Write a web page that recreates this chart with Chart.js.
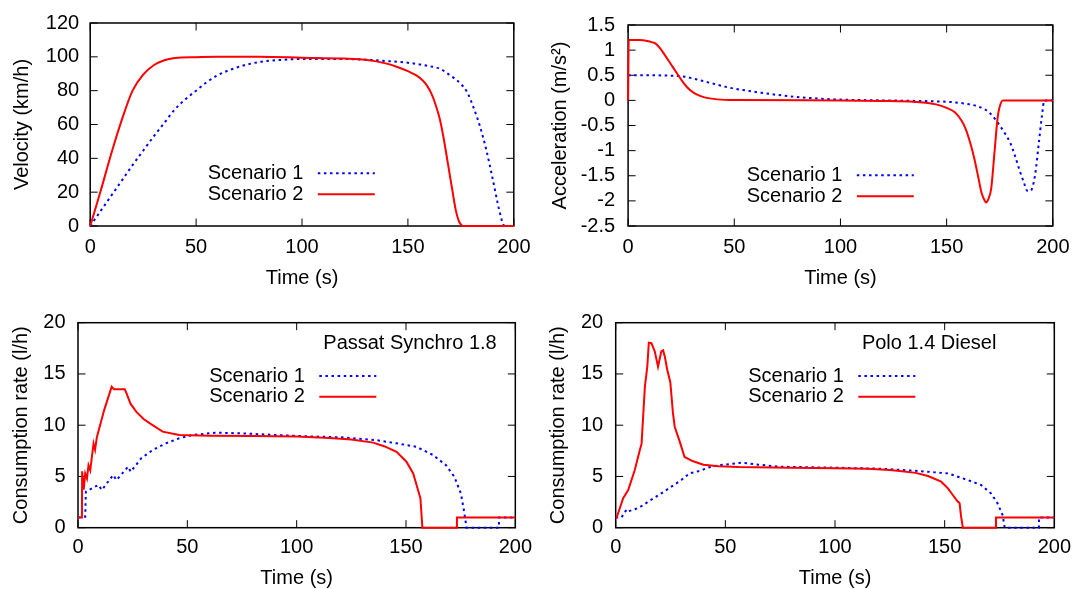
<!DOCTYPE html>
<html>
<head>
<meta charset="utf-8">
<title>Velocity, acceleration and consumption rate</title>
<script src="https://cdn.jsdelivr.net/npm/chart.js@4.4.1/dist/chart.umd.min.js"></script>
<style>
  html, body { margin: 0; padding: 0; background: #fff; overflow: hidden; }
  canvas { position: absolute; }
</style>
</head>
<body>
<canvas id="velocity-chart" width="540" height="295" style="left:0;top:0"></canvas>
<canvas id="acceleration-chart" width="539" height="295" style="left:540px;top:0"></canvas>
<canvas id="passat-chart" width="540" height="295" style="left:0;top:295px"></canvas>
<canvas id="polo-chart" width="539" height="295" style="left:540px;top:295px"></canvas>
<script>
// values
const seriesNames = ['Scenario 1', 'Scenario 2'];
const timeTicks = [0, 50, 100, 150, 200];
const velocityTicks = [0, 20, 40, 60, 80, 100, 120];
const accelTicks = [-2.5, -2, -1.5, -1, -0.5, 0, 0.5, 1, 1.5];
const consumptionTicks = [0, 5, 10, 15, 20];

const velTime1 = [0, 5, 10, 15, 20, 25, 30, 35, 40, 45, 50, 55, 60, 70, 80, 90, 100, 120, 130, 140, 150, 160, 165, 170, 175, 178, 181, 184, 187, 190, 193, 195, 196, 200];
const velScen1 = [0, 9, 18, 27, 36, 44.5, 53, 61, 69, 75, 80, 85, 89, 94, 97, 98.2, 98.7, 98.7, 98.3, 97.5, 96.5, 94.5, 93, 89, 84, 79, 70, 59, 45, 28, 10, 1, 0, 0];
const velTime2 = [0, 5, 10, 15, 20, 25, 30, 35, 40, 50, 60, 80, 100, 120, 130, 140, 145, 150, 154, 157, 159, 161, 163, 165, 167, 169, 171, 172.5, 174, 175, 176, 200];
const velScen2 = [0, 21, 43, 63, 80, 89.5, 95, 98, 99.3, 99.8, 100, 100, 99.5, 99, 98.3, 96, 94, 91.5, 89, 86, 83, 78.5, 72, 63.5, 51, 36, 21, 10, 3, 1, 0, 0];

const accTime1 = [0, 10, 20, 26, 32, 39, 48, 55, 63, 70, 79, 90, 100, 120, 135, 145, 151, 158, 164, 168, 170, 173, 175, 177.5, 180, 182, 184.5, 186.5, 188, 189.5, 191.7, 193.3, 194.9, 196, 200];
const accScen1 = [0.5, 0.5, 0.49, 0.475, 0.42, 0.344, 0.25, 0.2, 0.15, 0.11, 0.07, 0.035, 0.015, 0, -0.01, -0.02, -0.03, -0.06, -0.11, -0.18, -0.24, -0.38, -0.5, -0.66, -0.85, -1.08, -1.41, -1.65, -1.8, -1.8, -1.47, -0.89, -0.3, 0, 0];
const accTime2 = [0, 0.3, 5, 7, 9, 11, 13, 15, 17, 20, 23, 26, 29, 32, 36, 42, 50, 100, 120, 135, 145, 150, 154, 157, 159, 161, 163, 165, 166.5, 168, 168.5, 169.5, 171, 172.5, 174, 175, 176.5, 200];
const accScen2 = [0, 1.2, 1.2, 1.195, 1.18, 1.16, 1.13, 1.04, 0.92, 0.73, 0.54, 0.355, 0.21, 0.125, 0.06, 0.02, 0.005, 0, -0.01, -0.03, -0.08, -0.15, -0.24, -0.4, -0.57, -0.83, -1.15, -1.55, -1.85, -2.0, -2.03, -1.98, -1.75, -1.05, -0.35, -0.12, 0, 0];

const passatTime1 = [0, 3.3, 3.6, 6, 9.3, 10.9, 16.1, 17.6, 22.9, 24.1, 28.9, 34.2, 40.2, 46.3, 52.3, 62.7, 75, 100, 120, 135.8, 145.7, 154.7, 162.3, 168.3, 172.1, 175.1, 176.6, 177.7, 192.5, 192.5, 200];
const passatScen1 = [1, 1.07, 3.5, 3.8, 4.17, 3.68, 5.14, 4.65, 5.95, 5.46, 6.77, 7.58, 8.23, 8.72, 9.04, 9.27, 9.2, 8.95, 8.82, 8.56, 8.23, 7.9, 7.1, 6.1, 4.98, 3.35, 1.56, 0, 0, 1, 1];
const passatTime2 = [0, 1.8, 1.9, 2.6, 3.3, 4.1, 4.8, 5.6, 7.1, 7.8, 8.6, 12, 15.4, 16.5, 21.4, 22.2, 24, 26.7, 30, 32.7, 38.7, 46.3, 60, 80, 100, 115, 125, 135, 140, 145.7, 150.2, 153.3, 155.5, 156.6, 157.5, 173.3, 173.3, 200];
const passatScen2 = [1, 1, 5.5, 3.7, 5.3, 4.8, 6.1, 5.6, 8.2, 7.6, 8.8, 11.5, 13.75, 13.5, 13.5, 13.1, 12.1, 11.3, 10.6, 10.2, 9.37, 9.04, 8.98, 8.95, 8.9, 8.75, 8.6, 8.3, 7.95, 7.4, 6.44, 5.3, 3.68, 2.87, 0, 0, 1, 1];

const poloTime1 = [0, 2.7, 4, 5, 5.4, 8.7, 11, 15.5, 20.8, 25.4, 29.9, 33.7, 38.2, 42.7, 47.3, 52, 57.5, 65, 74.6, 101, 121, 136.8, 142.4, 151.5, 160.5, 166.6, 171.1, 174.1, 176.4, 177.4, 193, 193, 200];
const poloScen1 = [1, 1, 1.5, 1.73, 1.57, 1.8, 2.0, 2.63, 3.35, 4.0, 4.65, 5.3, 5.53, 5.9, 6.1, 6.2, 6.34, 6.15, 5.95, 5.85, 5.75, 5.55, 5.46, 5.3, 4.65, 4.17, 3.35, 2.38, 1.24, 0, 0, 1, 1];
const poloTime2 = [0, 0.45, 3.4, 5.7, 8.7, 11, 11.8, 13.3, 14.4, 15.1, 16.3, 17.8, 19.3, 20.8, 21.6, 22.4, 23.5, 24.9, 26.1, 26.9, 29.2, 31.4, 35, 40, 47, 56, 80, 100, 115, 125, 130.5, 136.8, 142.4, 148.4, 151.5, 153.7, 155.7, 156.8, 157.5, 158.3, 173.4, 173.4, 200];
const poloScen2 = [1, 1, 2.87, 3.68, 5.63, 7.58, 8.2, 13.75, 15.7, 18.05, 18.0, 17.2, 15.7, 17.2, 17.3, 16.7, 15.4, 14.2, 11.2, 9.85, 8.4, 6.9, 6.5, 6.15, 6.0, 5.92, 5.85, 5.8, 5.75, 5.62, 5.5, 5.35, 5.04, 4.49, 3.84, 3.19, 2.63, 2.38, 1.07, 0, 0, 1, 1];

const FONT = '"Liberation Sans", Arial, sans-serif';
Chart.defaults.font.family = FONT;
Chart.defaults.font.size = 20;
Chart.defaults.color = '#000';

const TICK_LEN = 7.5;

function toPoints(times, values) {
  return times.map((t, i) => ({ x: t, y: values[i] }));
}

// gnuplot style box with inward ticks on all four sides
const frameAndTicks = {
  id: 'frameAndTicks',
  beforeDatasetsDraw(chart) {
    const { ctx, chartArea: a, scales } = chart;
    ctx.save();
    ctx.strokeStyle = '#000';
    ctx.lineWidth = 1;
    ctx.beginPath();
    scales.x.ticks.forEach(tick => {
      const px = scales.x.getPixelForValue(tick.value);
      ctx.moveTo(px, a.bottom); ctx.lineTo(px, a.bottom - TICK_LEN);
      ctx.moveTo(px, a.top); ctx.lineTo(px, a.top + TICK_LEN);
    });
    scales.y.ticks.forEach(tick => {
      const py = scales.y.getPixelForValue(tick.value);
      ctx.moveTo(a.left, py); ctx.lineTo(a.left + TICK_LEN, py);
      ctx.moveTo(a.right, py); ctx.lineTo(a.right - TICK_LEN, py);
    });
    ctx.stroke();
    ctx.lineWidth = 1.5;
    ctx.strokeRect(a.left, a.top, a.right - a.left, a.bottom - a.top);
    ctx.restore();
  }
};

// key with the text on the left of the line sample, plus optional caption
const keyBox = {
  id: 'keyBox',
  afterDatasetsDraw(chart, args, opts) {
    const { ctx, chartArea: a } = chart;
    ctx.save();
    ctx.font = '20px ' + FONT;
    ctx.fillStyle = '#000';
    ctx.textAlign = 'right';
    ctx.textBaseline = 'middle';
    if (opts.caption) ctx.fillText(opts.caption, a.right - opts.captionRight, a.top + opts.captionY);
    chart.data.datasets.forEach((ds, i) => {
      const y = a.top + opts.rows[i];
      ctx.fillText(ds.label, a.right - 210.5, y);
      ctx.beginPath();
      ctx.strokeStyle = ds.borderColor;
      ctx.lineWidth = ds.borderWidth;
      ctx.setLineDash(ds.borderDash || []);
      ctx.moveTo(a.right - 196, y);
      ctx.lineTo(a.right - 139, y);
      ctx.stroke();
    });
    ctx.restore();
  }
};

function makeChart(id, c) {
  return new Chart(document.getElementById(id), {
    type: 'line',
    data: {
      datasets: [
        {
          label: seriesNames[0],
          data: toPoints(c.t1, c.v1),
          borderColor: '#0000ff',
          borderWidth: 2,
          borderDash: [2.5, 3.6],
          pointRadius: 0,
          tension: 0,
          cubicInterpolationMode: c.smooth ? 'monotone' : 'default',
          clip: false,
          order: 1
        },
        {
          label: seriesNames[1],
          data: toPoints(c.t2, c.v2),
          borderColor: '#ff0000',
          borderWidth: 2,
          pointRadius: 0,
          tension: 0,
          cubicInterpolationMode: c.smooth ? 'monotone' : 'default',
          clip: false,
          order: 0
        }
      ]
    },
    options: {
      responsive: false,
      animation: false,
      devicePixelRatio: 1,
      events: [],
      layout: { padding: { left: 0, top: c.padTop, right: c.padRight, bottom: 0 } },
      scales: {
        x: {
          type: 'linear',
          min: 0,
          max: 200,
          afterBuildTicks: s => { s.ticks = timeTicks.map(v => ({ value: v })); },
          afterFit: s => { s.height = c.xHeight; },
          grid: { display: false, drawTicks: false },
          border: { display: false },
          ticks: { padding: c.xTickPad, maxRotation: 0, autoSkip: false, callback: v => String(v) },
          title: { display: true, text: 'Time (s)', padding: { top: 0, bottom: c.xTitlePad } }
        },
        y: {
          type: 'linear',
          min: c.yTicks[0],
          max: c.yTicks[c.yTicks.length - 1],
          afterBuildTicks: s => { s.ticks = c.yTicks.map(v => ({ value: v })); },
          afterFit: s => { s.width = c.yWidth; },
          grid: { display: false, drawTicks: false },
          border: { display: false },
          ticks: { padding: c.yTickPad, autoSkip: false, callback: v => String(v) },
          title: { display: true, text: c.yTitle, padding: { top: c.yTitlePad, bottom: 0 } }
        }
      },
      plugins: {
        legend: { display: false },
        tooltip: { enabled: false },
        keyBox: c.key
      }
    },
    plugins: [frameAndTicks, keyBox]
  });
}

const velocityChart = makeChart('velocity-chart', {
  t1: velTime1, v1: velScen1, t2: velTime2, v2: velScen2, smooth: true,
  yTicks: velocityTicks, yTitle: 'Velocity (km/h)',
  padTop: 20.7, padRight: 19.5, yWidth: 90.2, xHeight: 69,
  xTickPad: 9.5, yTickPad: 11, xTitlePad: 5, yTitlePad: 10.4,
  key: { rows: [150.3, 171.3] }
});

const accelerationChart = makeChart('acceleration-chart', {
  t1: accTime1, v1: accScen1, t2: accTime2, v2: accScen2, smooth: true,
  yTicks: accelTicks, yTitle: 'Acceleration (m/s\u00B2)',
  padTop: 20.7, padRight: 21.5, yWidth: 88.1, xHeight: 69,
  xTickPad: 9.5, yTickPad: 13, xTitlePad: 5, yTitlePad: 8.5,
  key: { rows: [150.3, 171.3] }
});

const passatChart = makeChart('passat-chart', {
  t1: passatTime1, v1: passatScen1, t2: passatTime2, v2: passatScen2, smooth: false,
  yTicks: consumptionTicks, yTitle: 'Consumption rate (l/h)',
  padTop: 27.7, padRight: 19.5, yWidth: 78, xHeight: 62.3,
  xTickPad: 8, yTickPad: 12.5, xTitlePad: 0, yTitlePad: 9,
  key: { rows: [53.3, 74], caption: 'Passat Synchro 1.8', captionRight: 18.6, captionY: 20.6 }
});

const poloChart = makeChart('polo-chart', {
  t1: poloTime1, v1: poloScen1, t2: poloTime2, v2: poloScen2, smooth: false,
  yTicks: consumptionTicks, yTitle: 'Consumption rate (l/h)',
  padTop: 27.7, padRight: 21.5, yWidth: 75.7, xHeight: 62.3,
  xTickPad: 8, yTickPad: 12.5, xTitlePad: 0, yTitlePad: 6.2,
  key: { rows: [53.3, 74], caption: 'Polo 1.4 Diesel', captionRight: 57.9, captionY: 20.6 }
});
</script>
</body>
</html>
